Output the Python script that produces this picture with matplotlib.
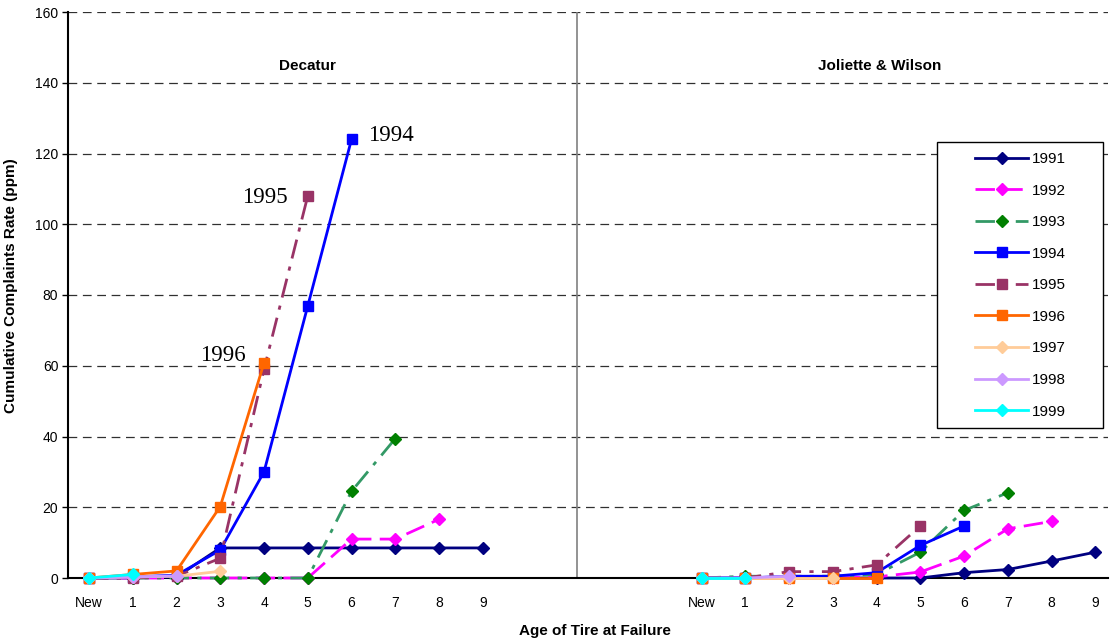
import matplotlib
matplotlib.use('Agg')
import matplotlib.pyplot as plt
import numpy as np
from matplotlib.patches import Rectangle

# ---------------- data ----------------
ages = ['New', '1', '2', '3', '4', '5', '6', '7', '8', '9']
years = ['1991', '1992', '1993', '1994', '1995', '1996', '1997', '1998', '1999']

# Decatur (left panel)
dec_1991 = [0, 0, 0.3, 8.5, 8.5, 8.5, 8.5, 8.5, 8.5, 8.5]
dec_1992 = [0, 0, 0, 0, 0, 0, 11.0, 11.0, 16.6]
dec_1993 = [0, 0, 0, 0, 0, 0, 24.5, 39.4]
dec_1994 = [0, 0.3, 0.8, 7.9, 30.0, 76.9, 124.0]
dec_1995 = [0, 0, 0.5, 5.6, 59.0, 108.0]
dec_1996 = [0, 1.0, 2.0, 20.2, 60.8]
dec_1997 = [0, 0.3, 0.5, 1.9]
dec_1998 = [0, 0.3, 0.6]
dec_1999 = [0, 1.0]

# Joliette & Wilson (right panel)
jw_1991 = [0, 0, 0, 0, 0, 0, 1.5, 2.4, 4.8, 7.3]
jw_1992 = [0, 0, 0, 0, 0.3, 1.7, 6.2, 13.9, 16.0]
jw_1993 = [0, 0.5, 0.5, 0.5, 1.0, 7.3, 19.1, 24.1]
jw_1994 = [0, 0, 0.5, 0.5, 1.5, 9.2, 14.7]
jw_1995 = [0, 0, 1.8, 1.8, 3.7, 14.7]
jw_1996 = [0, 0, 0, 0, 0]
jw_1997 = [0, 0, 0, 0]
jw_1998 = [0, 0, 0.5]
jw_1999 = [0, 0]

decatur = [dec_1991, dec_1992, dec_1993, dec_1994, dec_1995,
           dec_1996, dec_1997, dec_1998, dec_1999]
joliette = [jw_1991, jw_1992, jw_1993, jw_1994, jw_1995,
            jw_1996, jw_1997, jw_1998, jw_1999]

# ---------------- styles ----------------
line_colors = ['#000080', '#FF00FF', '#339966', '#0000FF', '#993366',
               '#FF6600', '#FFCC99', '#CC99FF', '#00FFFF']
marker_colors = ['#000080', '#FF00FF', '#008000', '#0000FF', '#993366',
                 '#FF6600', '#FFCC99', '#CC99FF', '#00FFFF']
markers = ['D', 'D', 'D', 's', 's', 's', 'D', 'D', 'D']
dash_long = (0, (7, 3))
dash_dot = (0, (7, 3, 1.5, 3))
linestyles = ['-', dash_long, dash_dot, '-', dash_dot, '-', '-', '-', '-']

W, H = 1111, 641
fig = plt.figure(figsize=(W / 100, H / 100), dpi=100)
ax_l, ax_r, ax_t, ax_b = 68, 1108, 12, 578
ax = fig.add_axes([ax_l / W, (H - ax_b) / H, (ax_r - ax_l) / W, (ax_b - ax_t) / H])

RIGHT_OFFSET = 14
handles = []
for i, yr in enumerate(years):
    kw = dict(color=line_colors[i], lw=2.0, linestyle=linestyles[i],
              marker=markers[i], markersize=6.5,
              markerfacecolor=marker_colors[i], markeredgecolor=marker_colors[i],
              zorder=3 + i, clip_on=False)
    xl = np.arange(len(decatur[i]))
    h, = ax.plot(xl, decatur[i], label=yr, **kw)
    xr = RIGHT_OFFSET + np.arange(len(joliette[i]))
    ax.plot(xr, joliette[i], **kw)
    handles.append(h)

ax.set_xlim(-0.48, 23.29)
ax.set_ylim(0, 160)
ax.set_yticks(np.arange(0, 161, 20))
ax.set_xticks(list(range(10)) + list(range(RIGHT_OFFSET, RIGHT_OFFSET + 10)))
ax.set_xticklabels(ages + ages)

for lbl in ax.get_xticklabels() + ax.get_yticklabels():
    lbl.set_fontfamily('Liberation Sans')
    lbl.set_fontsize(10)

ax.tick_params(axis='x', length=0, pad=13)
ax.tick_params(axis='y', length=4, width=1, pad=3, direction='out')

ax.yaxis.grid(True, linestyle=(0, (7, 4.5)), color='#303030', lw=0.9)
ax.set_axisbelow(True)

for s in ['top', 'right']:
    ax.spines[s].set_visible(False)
for s in ['left', 'bottom']:
    ax.spines[s].set_linewidth(1.5)
    ax.spines[s].set_color('black')
    ax.spines[s].set_zorder(2.5)

ax.axvline(11.15, color='#808080', lw=1.2, zorder=2)

ax.set_ylabel('Cumulative Complaints Rate (ppm)', fontfamily='Liberation Sans',
              fontsize=11, fontweight='bold')
ax.yaxis.set_label_coords(-0.048, 0.516)
ax.set_xlabel('Age of Tire at Failure', fontfamily='Liberation Sans',
              fontsize=11, fontweight='bold')
ax.xaxis.set_label_coords(0.507, -0.081)

ax.text(5.0, 144.7, 'Decatur', ha='center', va='center', fontfamily='Liberation Sans',
        fontsize=11, fontweight='bold')
ax.text(18.08, 144.7, 'Joliette & Wilson', ha='center', va='center',
        fontfamily='Liberation Sans', fontsize=11, fontweight='bold')

serif = dict(fontfamily='Liberation Serif', fontsize=16.5, va='center')
ax.text(6.38, 125.2, '1994', ha='left', **serif)
ax.text(4.55, 107.7, '1995', ha='right', **serif)
ax.text(3.58, 63.0, '1996', ha='right', **serif)

# legend
fig.patches.append(Rectangle((937 / W, (H - 428) / H), (1103 - 937) / W, (428 - 142) / H,
                             transform=fig.transFigure, facecolor='white',
                             edgecolor='black', lw=1.0, zorder=10))
leg = fig.legend(handles, years, loc='upper left',
                 bbox_to_anchor=(975 / W, (H - 152) / H), bbox_transform=fig.transFigure,
                 frameon=False, borderpad=0, borderaxespad=0, handlelength=3.5,
                 handletextpad=0.2, labelspacing=1.15,
                 prop={'family': 'Liberation Sans', 'size': 11})
leg.set_zorder(11)

fig.savefig('out.png', dpi=100)
